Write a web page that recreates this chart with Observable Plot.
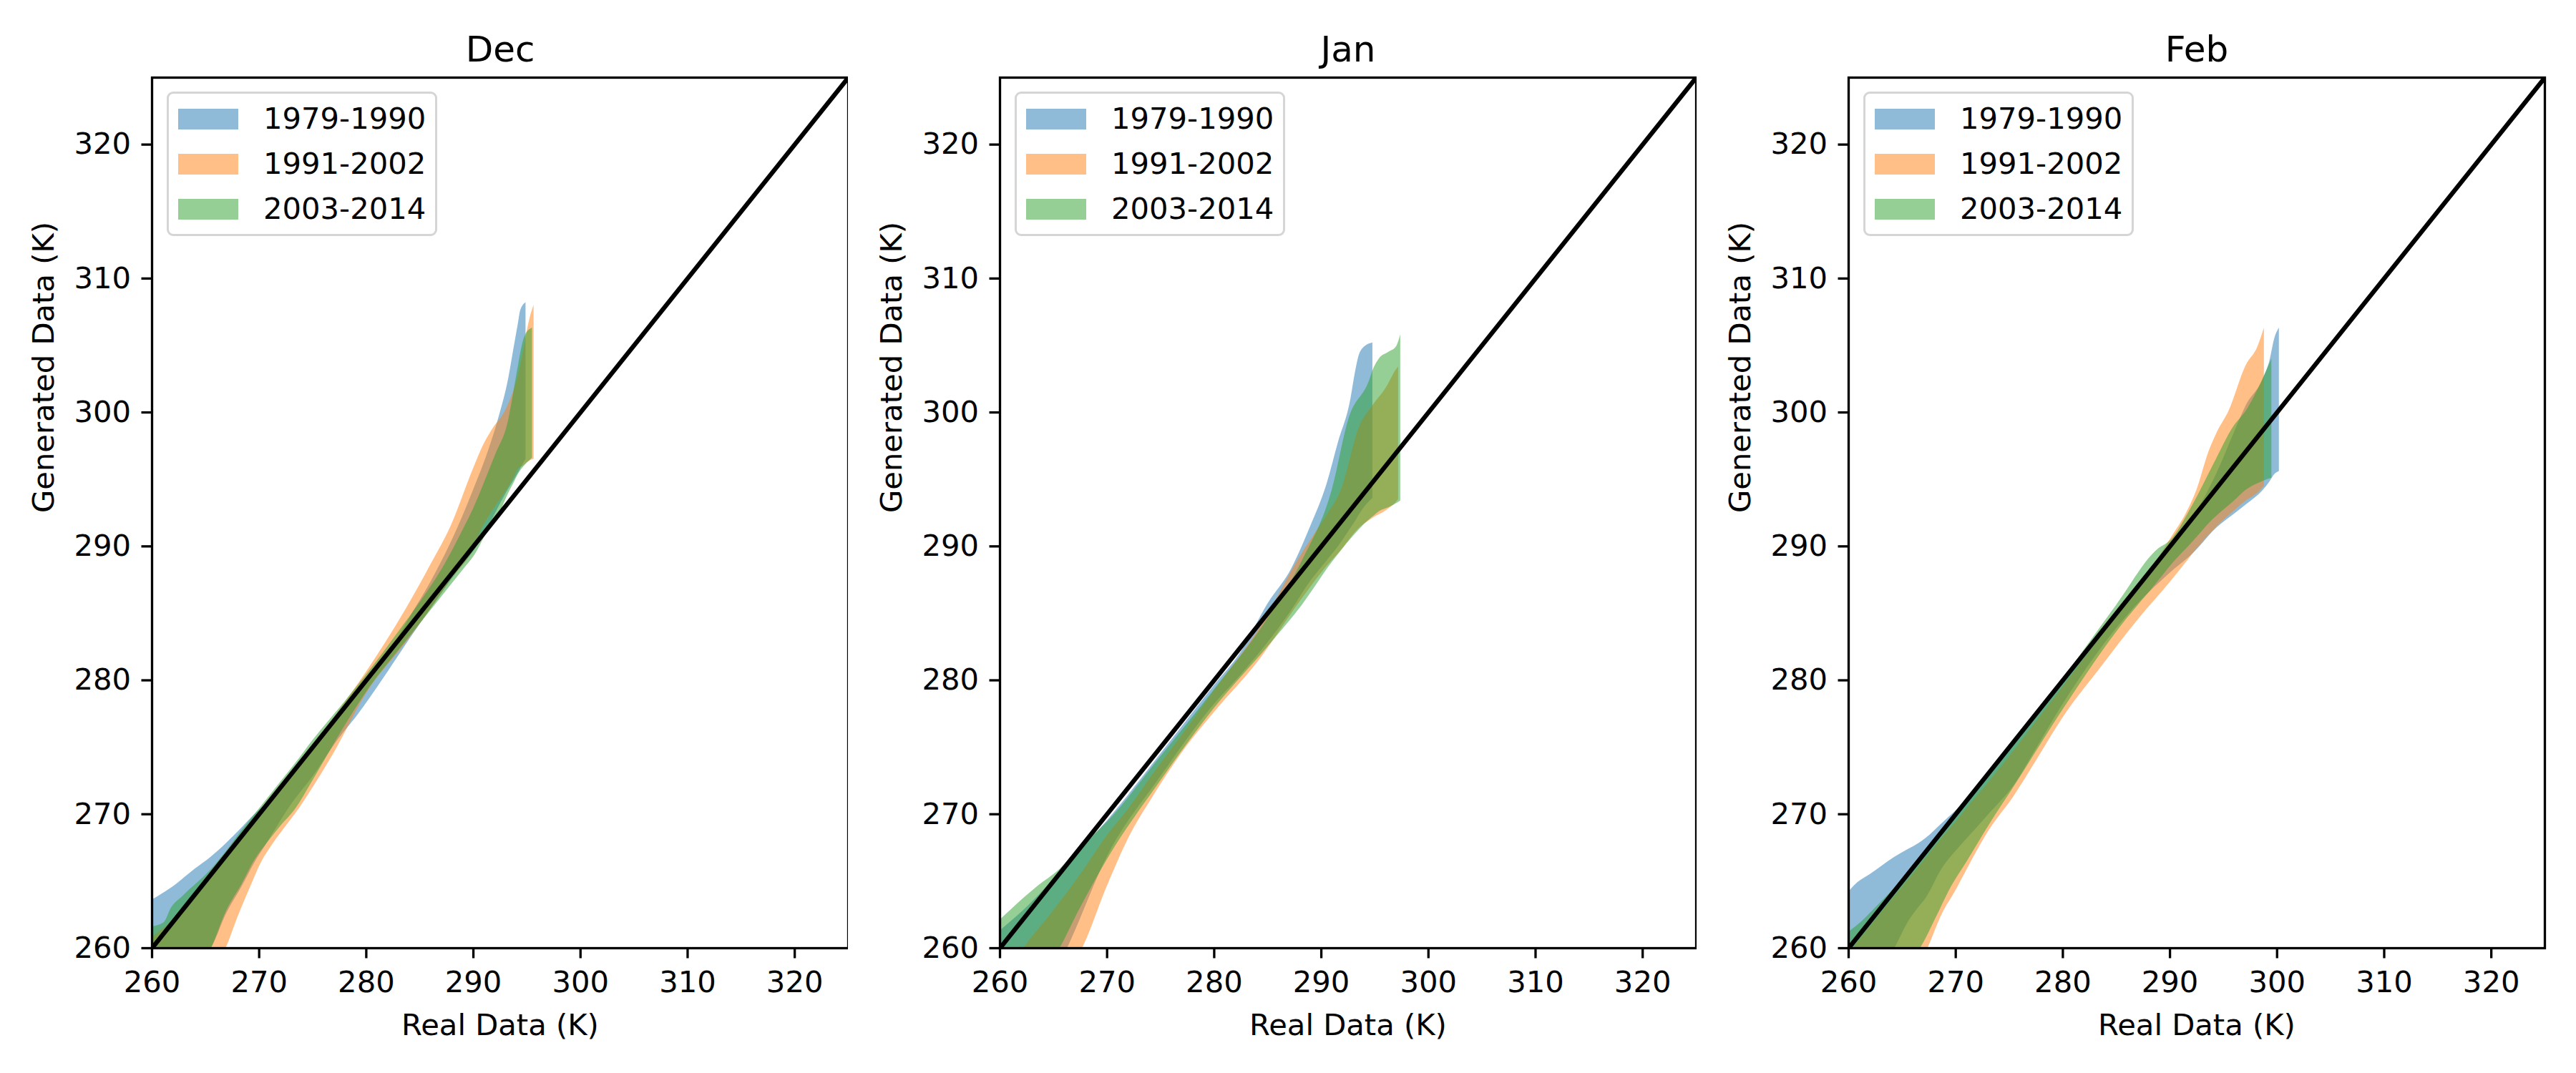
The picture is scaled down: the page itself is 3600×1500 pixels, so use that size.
<!DOCTYPE html>
<html>
<head>
<meta charset="utf-8">
<script src="https://cdn.jsdelivr.net/npm/d3@7"></script>
<script src="https://cdn.jsdelivr.net/npm/@observablehq/plot@0.6"></script>
<style>
  html, body { margin: 0; padding: 0; background: #fff; }
  #page { position: relative; width: 3600px; height: 1500px; background: #fff; font-family: "DejaVu Sans", sans-serif; }
  .panel { position: absolute; top: 0; }
  .legend { position: absolute; border: 3px solid #d5d5d5; border-radius: 9px; background: rgba(255,255,255,0.8); box-sizing: border-box; }
  .legend .row { position: absolute; left: 0; height: 40px; display: flex; align-items: center; }
  .legend .sw { width: 84px; height: 29px; margin-left: 13px; }
  .legend .lab { margin-left: 35px; font-size: 41.7px; color: #000; white-space: nowrap; line-height: 1; }
</style>
</head>
<body>
<div id="page"></div>
<script>
// ---- data ----
const months = ["Dec", "Jan", "Feb"];
const periods = ["1979-1990", "1991-2002", "2003-2014"];
const colors = ["#1f77b4", "#ff7f0e", "#2ca02c"];
const ticks = [260, 270, 280, 290, 300, 310, 320];
const domain = [260, 325];
const identity = [260, 325];

// each row: [real (K), generated low (K), generated high (K)]
const dec1979 = [[260,253.5,263.6],[261.8,256.5,264.5],[264,259.2,265.9],[265.5,260,266.8],[266.9,262.5,267.8],[268.4,264.6,269.0],[269.6,266.4,270.0],[270.7,267.8,270.8],[272.9,270.6,272.7],[275.1,272.9,274.9],[277.4,275.6,277.2],[279.2,277.4,279.0],[282,280.6,281.9],[284,283.0,284.6],[286,285.3,287.3],[288.6,288.2,291.5],[290,289.6,294.2],[291.3,291.3,296.9],[292.4,293.0,299.7],[293.3,294.3,302.6],[293.76,294.9,304.7],[294.2,295.5,306.7],[294.4,295.8,307.6],[294.9,296.5,308.2]];
const dec1991 = [[260,250,260.8],[262.9,255,262.8],[266.2,259,266.0],[266.9,260,266.7],[268,262.3,267.8],[269.1,264.4,268.9],[270.2,266.4,269.9],[271.3,267.8,271.0],[272.5,269.1,272.3],[273.8,270.5,273.6],[275.1,272.1,275.0],[277,274.6,277.2],[280,279.0,280.6],[283.7,282.8,285.3],[286,285.3,288.6],[287.9,287.5,291.5],[290,289.8,295.8],[290.9,291.5,297.5],[291.75,292.6,298.7],[293.1,294.2,300.3],[293.76,295.1,301.6],[294.2,295.8,302.8],[294.65,296.0,304.5],[295.1,296.3,306.4],[295.3,296.4,307.1],[295.65,296.5,308.0]];
const dec2003 = [[260,252,261.6],[261.1,254,261.9],[261.8,255.5,263.0],[262.9,257,263.9],[265.55,260,265.9],[266.9,262.7,267.2],[268.4,264.8,268.8],[269.6,266.6,270.0],[270.7,267.8,271.1],[272,269.1,272.4],[273.4,270.4,273.8],[275,272.5,275.5],[278,276.6,278.4],[280,279.1,280.4],[283,282.2,283.6],[285,284.2,285.8],[287,286.2,288.2],[289.2,288.4,291.5],[290,289.2,292.8],[291.5,291.3,295.7],[292.1,291.9,296.9],[293.3,294.0,299.5],[293.76,294.7,301.5],[294.2,295.4,303.5],[294.65,295.9,305.3],[294.87,296.1,305.8],[295.5,296.6,306.3]];
const jan1979 = [[260,252,261.3],[262.7,254.5,263.2],[266.3,260,266.3],[270,266.8,269.5],[275,272.8,274.5],[280,278.2,279.6],[282.5,280.4,282.1],[285,282.8,285.7],[287.2,285.2,288.3],[289,287.4,291.5],[290.5,288.9,294.6],[291.6,290.0,297.8],[292.7,291.3,300.8],[293.2,291.9,303.1],[293.5,292.3,304.2],[293.9,292.8,304.8],[294.8,293.6,305.2]];
const jan1991 = [[260,250,257.5],[262.2,253.5,260],[265,257,262.8],[267.7,260,265.7],[270,264.6,268.4],[272,268.2,270.4],[274.2,271.2,272.9],[277,274.6,275.9],[280,277.6,279.2],[284,281.3,283.6],[288.3,286.2,289.6],[290.5,288.5,292.3],[291.85,289.7,294.2],[293.6,291.4,299.0],[294.8,292.1,300.5],[296.1,292.7,301.9],[297.0,293.3,303.2],[297.2,293.5,303.4]];
const jan2003 = [[260,252,262.1],[263.5,257.5,264.6],[265.6,260,265.9],[267.3,262.7,267.4],[270,266.6,269.4],[275,272.5,274.3],[280,277.9,279.3],[285,282.5,284.6],[288.2,285.6,288.9],[291,288.8,294.2],[292.6,290.4,299.6],[294.5,292.0,302.4],[294.8,292.2,303.1],[295.4,292.6,304.0],[296.3,292.9,304.5],[297.0,293.2,304.9],[297.4,293.4,305.8]];
const feb1979 = [[260,254,264.2],[260.7,255.5,264.8],[262,257.8,265.5],[264.3,260,266.8],[265.6,262,267.4],[266.5,263,267.8],[267.2,263.7,268.2],[268.7,265.9,269.3],[270.3,267.5,270.5],[271.2,268.3,271.3],[273.2,270.1,273.0],[275.4,272.1,275.1],[277.6,275.0,277.3],[280,278.2,279.7],[286.2,285.0,286.0],[290,288.0,289.7],[292.2,289.5,292.2],[294.4,291.4,295.5],[296,292.4,298.5],[297.1,293.1,300.5],[298.7,294.2,302.5],[299.3,294.8,303.8],[299.8,295.4,305.6],[300.2,295.6,306.3]];
const feb1991 = [[260,250,259.6],[263,254.5,262.6],[267.4,260,266.9],[268.7,262.5,268.2],[270,264.3,269.4],[271,265.8,270.4],[273.2,268.9,272.5],[275.4,271.3,274.7],[277.6,274.1,277.0],[280,277.2,279.5],[283.4,280.8,283.1],[287,284.5,286.8],[290,287.3,290.5],[291.6,288.9,292.6],[292.5,289.8,294.2],[293.6,290.8,297.0],[294.4,291.5,298.5],[295.5,292.3,300.1],[297.1,293.4,303.5],[298.2,294.0,304.9],[298.8,294.5,306.3]];
const feb2003 = [[260,252,261.2],[261.1,253.5,261.9],[262.5,255.5,263.0],[265,258.4,265.1],[266.7,260,266.7],[268.3,262.5,268.3],[269.6,264.6,269.6],[271,266.4,271.0],[273.2,269.3,273.2],[275.4,272.0,275.3],[280,277.8,280.1],[285,283.6,285.6],[288.9,287.4,289.8],[290,288.5,290.4],[292.2,290.4,293.2],[294,292,296],[296,293.4,299],[297.1,294.2,300.1],[298.5,294.8,302.2],[299.5,295.1,304]];

const bands = {
  Dec: [dec1979, dec1991, dec2003],
  Jan: [jan1979, jan1991, jan2003],
  Feb: [feb1979, feb1991, feb2003]
};

// ---- layout ----
const panelLeft = [0, 1185, 2371];
const W = 1185, H = 1500;
const mL = 212, mT = 108, mB = 175;
const frameW = 973;
const fs = 41.7;

const page = document.getElementById("page");

months.forEach((m, i) => {
  const marks = [];
  bands[m].forEach((band, k) => {
    marks.push(Plot.areaY(band, {
      x: d => d[0], y1: d => d[1], y2: d => d[2],
      fill: colors[k], fillOpacity: 0.5, curve: "monotone-x", clip: true
    }));
  });
  marks.push(Plot.line(identity, {x: d => d, y: d => d, stroke: "black", strokeWidth: 6.25, clip: true}));
  marks.push(Plot.frame({stroke: "black", strokeWidth: 3.3}));
  marks.push(Plot.axisX(ticks, {tickSize: 14.5, tickPadding: 17, strokeWidth: 3.3, fontSize: fs, label: null}));
  marks.push(Plot.axisY(ticks, {tickSize: 14.5, tickPadding: 15, strokeWidth: 3.3, fontSize: fs, label: null}));
  marks.push(Plot.text([m], {frameAnchor: "top", dy: -23, lineAnchor: "bottom", fontSize: 50, text: d => d}));
  marks.push(Plot.text(["Real Data (K)"], {frameAnchor: "bottom", dy: 121, lineAnchor: "bottom", fontSize: fs, text: d => d}));
  marks.push(Plot.text(["Generated Data (K)"], {frameAnchor: "left", dx: -151, rotate: -90, lineAnchor: "middle", fontSize: fs, text: d => d}));

  const chart = Plot.plot({
    width: W, height: H,
    marginLeft: mL, marginRight: W - mL - frameW, marginTop: mT, marginBottom: mB,
    x: {domain, ticks},
    y: {domain, ticks},
    style: {fontFamily: "DejaVu Sans", color: "black", background: "white", overflow: "visible"},
    marks
  });
  const div = document.createElement("div");
  div.className = "panel";
  div.style.left = panelLeft[i] + "px";
  div.appendChild(chart);
  page.appendChild(div);

  // legend
  const lg = document.createElement("div");
  lg.className = "legend";
  lg.style.left = (panelLeft[i] + 233) + "px";
  lg.style.top = "128px";
  lg.style.width = "378px";
  lg.style.height = "202px";
  periods.forEach((p, k) => {
    const row = document.createElement("div");
    row.className = "row";
    row.style.top = (15 + k * 63) + "px";
    const sw = document.createElement("div");
    sw.className = "sw";
    sw.style.background = colors[k];
    sw.style.opacity = 0.5;
    const lab = document.createElement("div");
    lab.className = "lab";
    lab.textContent = p;
    row.appendChild(sw);
    row.appendChild(lab);
    lg.appendChild(row);
  });
  page.appendChild(lg);
});
</script>
</body>
</html>
